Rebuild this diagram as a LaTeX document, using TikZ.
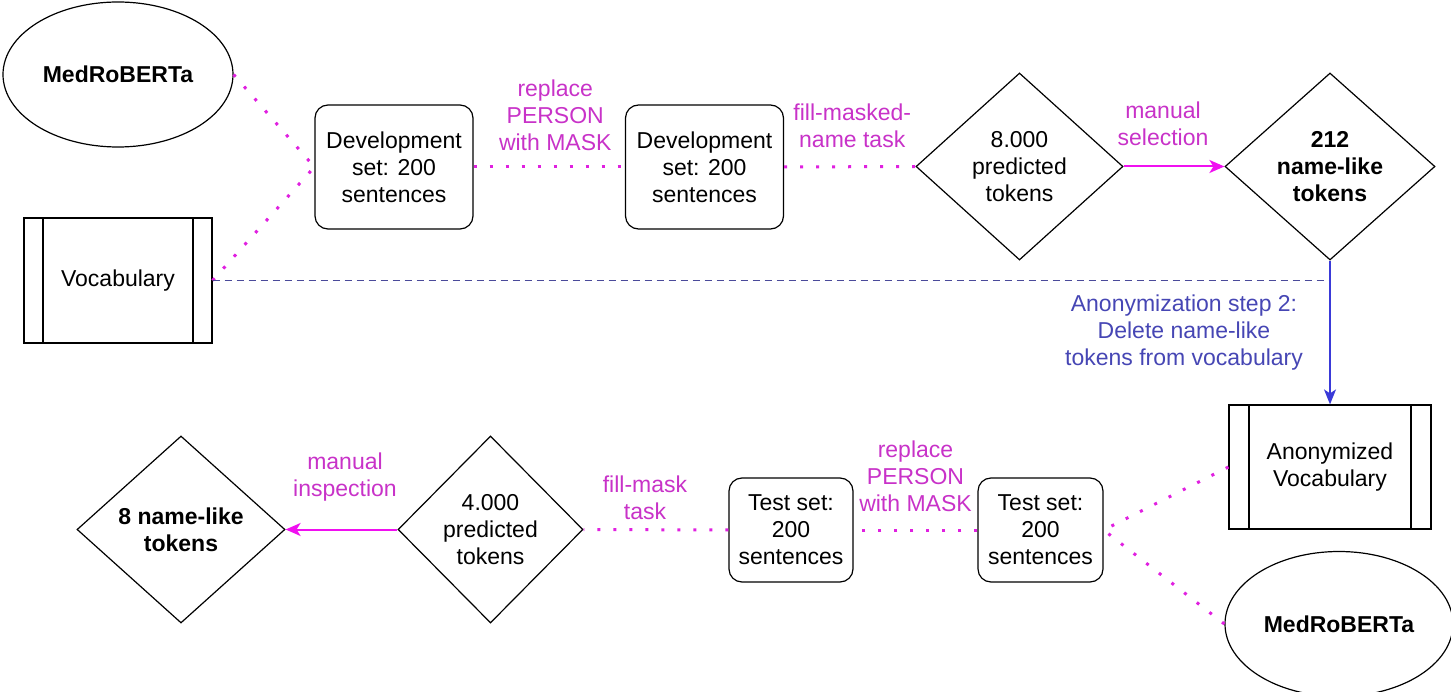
\documentclass[tikz,border=0pt]{standalone}
\usepackage{fontspec}
\setmainfont{Liberation Sans}
\usetikzlibrary{shapes.geometric,arrows.meta}
\definecolor{mag}{HTML}{E020E0}
\definecolor{magtxt}{HTML}{C832C8}
\definecolor{magarr}{HTML}{F010F0}
\definecolor{blu}{HTML}{3A3AD8}
\definecolor{blutxt}{HTML}{4646B4}
\definecolor{dashc}{HTML}{4A4A9A}
\begin{document}
\begin{tikzpicture}[x=1pt,y=-1pt,
  font=\fontsize{23}{27}\selectfont,
  rbox/.style={draw, rounded corners=13pt, line width=1.2pt, align=center, inner sep=0pt, minimum width=158pt, minimum height=124pt},
  tbox/.style={rbox, minimum width=125pt, minimum height=104pt},
  dia/.style={draw, diamond, line width=1.2pt, align=center, inner sep=0pt, minimum width=207pt, minimum height=187pt},
  procbox/.style={draw, rectangle, line width=1.2pt, align=center, inner sep=0pt,
    path picture={
      \draw[line width=1.2pt] ([xshift=#1]path picture bounding box.north west) -- ([xshift=#1]path picture bounding box.south west);
      \draw[line width=1.2pt] ([xshift=-#1]path picture bounding box.north east) -- ([xshift=-#1]path picture bounding box.south east);
    }},
  ell/.style={draw, ellipse, line width=1.2pt, inner sep=0pt, minimum width=230pt, minimum height=145pt, font=\fontsize{23}{27}\selectfont\bfseries},
  dotline/.style={draw=mag, line width=3pt, dash pattern=on 3pt off 13pt},
  lab/.style={text=magtxt, align=center, inner sep=0pt},
  blab/.style={text=blutxt, align=center, inner sep=0pt},
  marr/.style={draw=magarr, line width=2pt, -{Stealth[length=15pt,width=13pt,inset=4pt]}},
  barr/.style={draw=blu, line width=1.6pt, -{Stealth[length=15pt,width=12pt,inset=4pt]}},
  dashl/.style={draw=dashc, line width=1.2pt, dash pattern=on 7pt off 5pt}
]
\useasboundingbox (0,0) rectangle (1451,692);

% top row
\node[ell] (med1) at (118,74.5) {MedRoBERTa};
\node[procbox=19pt, minimum width=188pt, minimum height=125pt] (vocab) at (118,280.5) {Vocabulary};
\node[rbox] (dev1) at (394,167) {Development\\set: 200\\sentences};
\node[rbox] (dev2) at (704.5,167) {Development\\set: 200\\sentences};
\node[dia] (d8000) at (1019.5,166.5) {8.000\\predicted\\tokens};
\node[dia, minimum width=210pt, font=\fontsize{23}{27}\selectfont\bfseries] (d212) at (1330,166.5) {212\\name-like\\tokens};

% right column / bottom row
\node[procbox=20pt, minimum width=202pt, minimum height=124pt] (anon) at (1330,467) {Anonymized\\Vocabulary};
\node[ell, minimum width=228pt] (med2) at (1339,624) {MedRoBERTa};
\node[tbox] (test2) at (1040.5,530) {Test set:\\200\\sentences};
\node[tbox, minimum width=124pt] (test1) at (791,530) {Test set:\\200\\sentences};
\node[dia, minimum width=185pt] (d4000) at (490.5,529.5) {4.000\\predicted\\tokens};
\node[dia, minimum width=208pt, font=\fontsize{23}{27}\selectfont\bfseries] (d8name) at (181,529.5) {8 name-like\\tokens};

\coordinate (j) at (d212.south |- vocab.east);

% connectors top
\draw[dotline] (med1.east) -- (dev1.west);
\draw[dotline] (vocab.east) -- (dev1.west);
\draw[dotline] (dev1.east) -- node[lab, xshift=6pt, yshift=52pt] (l1) {replace\\PERSON\\with MASK} (dev2.west);
\draw[dotline] (dev2.east) -- node[lab, xshift=2.5pt, yshift=41pt] (l2) {fill-masked-\\name task} (d8000.west);
\draw[marr] (d8000.east) -- node[lab, xshift=-11pt, yshift=42.5pt] (l3) {manual\\selection} (d212.west);
\draw[dashl] (vocab.east) -- (j);
\draw[barr] (d212.south) -- node[blab, xshift=-146pt] (l4) {Anonymization step 2:\\Delete name-like\\tokens from vocabulary} (anon.north);

% connectors bottom
\draw[dotline] (anon.west) -- (test2.east);
\draw[dotline] (med2.west) -- (test2.east);
\draw[dotline] (test2.west) -- node[lab, yshift=54pt] (l5) {replace\\PERSON\\with MASK} (test1.east);
\draw[dotline] (test1.west) -- node[lab, xshift=-11pt, yshift=32pt] (l6) {fill-mask\\task} (d4000.east);
\draw[marr] (d4000.west) -- node[lab, xshift=3.5pt, yshift=52.5pt] (l7) {manual\\inspection} (d8name.east);
\end{tikzpicture}
\end{document}
